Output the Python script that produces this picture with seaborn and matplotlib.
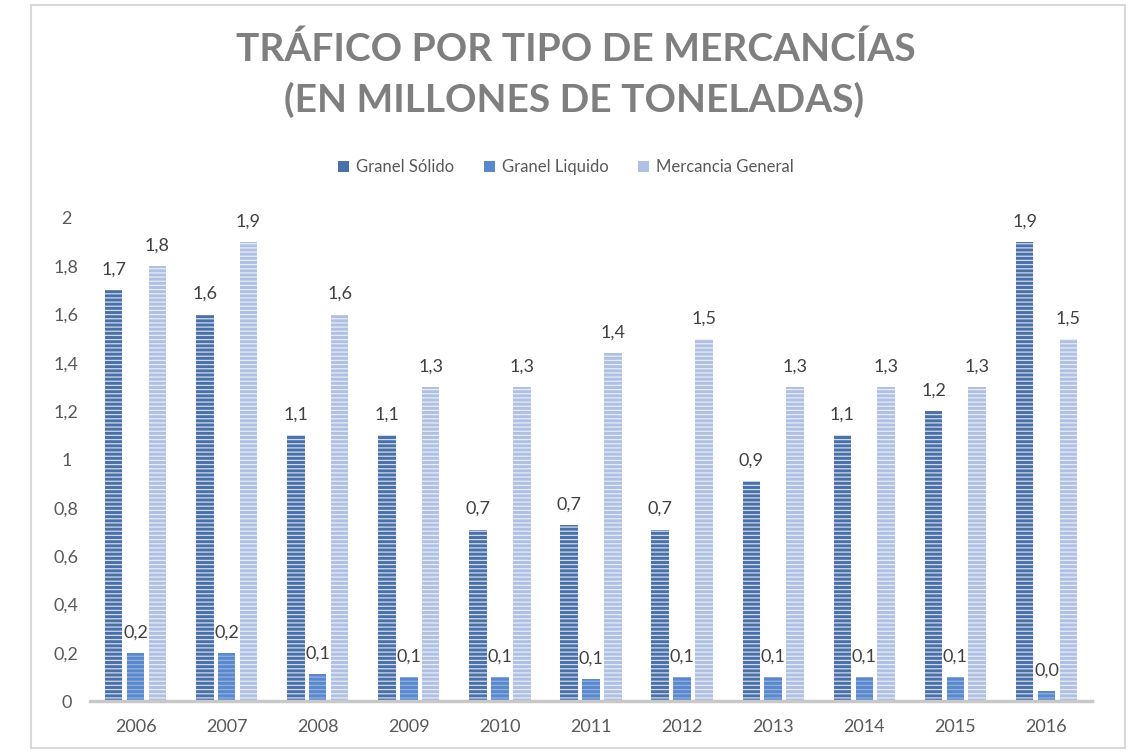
import numpy as np
import pandas as pd
import seaborn as sns
import matplotlib.pyplot as plt
from matplotlib.patches import Patch, Rectangle
from matplotlib.colors import to_rgba

# values (millions of tonnes)
years = ['2006', '2007', '2008', '2009', '2010', '2011', '2012', '2013', '2014', '2015', '2016']
granel_solido = [1.7, 1.6, 1.1, 1.1, 0.71, 0.73, 0.71, 0.91, 1.1, 1.2, 1.9]
granel_liquido = [0.2, 0.2, 0.11, 0.1, 0.1, 0.09, 0.1, 0.1, 0.1, 0.1, 0.04]
mercancia_general = [1.8, 1.9, 1.6, 1.3, 1.3, 1.44, 1.5, 1.3, 1.3, 1.3, 1.5]
series_names = ['Granel Sólido', 'Granel Liquido', 'Mercancia General']
y_ticks = [0, 0.2, 0.4, 0.6, 0.8, 1, 1.2, 1.4, 1.6, 1.8, 2]

colors = ['#4a70aa', '#5a88cd', '#afc0e2']
stripe_alpha = [0.75, 0.35, 0.7]

df = pd.DataFrame({
    'Año': years * 3,
    'Tipo': np.repeat(series_names, len(years)),
    'Valor': granel_solido + granel_liquido + mercancia_general,
})

sns.set_style('white')
plt.rcParams['font.family'] = ['Lato', 'DejaVu Sans']
plt.rcParams['hatch.color'] = 'white'
plt.rcParams['hatch.linewidth'] = 0.9

fig = plt.figure(figsize=(11.38, 7.53), dpi=100)
ax = fig.add_axes([90 / 1138, 1 - 701 / 753, 1002 / 1138, (701 - 218) / 753])

sns.barplot(data=df, x='Año', y='Valor', hue='Tipo', palette=colors,
            width=0.72, gap=0.2, linewidth=0, saturation=1, ax=ax)

# horizontal white stripes like the Excel pattern fill
for i, cont in enumerate(ax.containers):
    for p in cont:
        p.set_hatch('----')
        p._hatch_color = to_rgba('white', stripe_alpha[i])
        p.set_linewidth(0)
    labels = [f"{v:.1f}".replace('.', ',') for v in cont.datavalues]
    ax.bar_label(cont, labels=labels, padding=9, fontsize=13, color='#404040')

ax.set_ylim(0, 2)
ax.set_yticks(y_ticks)
ax.set_yticklabels([f"{t:g}".replace('.', ',') for t in y_ticks])
for lab in ax.get_yticklabels():
    lab.set_horizontalalignment('center')
ax.tick_params(axis='y', length=0, pad=17, labelsize=13, labelcolor='#595959')
ax.tick_params(axis='x', length=0, pad=13, labelsize=13, labelcolor='#595959')
ax.set_xlabel('')
ax.set_ylabel('')
ax.set_xlim(-0.5, len(years) - 0.5)

for side in ['left', 'right', 'top']:
    ax.spines[side].set_visible(False)
ax.spines['bottom'].set_color('#c8c8c8')
ax.spines['bottom'].set_linewidth(2.5)

handles = [Patch(facecolor=c, edgecolor='none') for c in colors]
leg = ax.legend(handles, series_names, loc='center',
                bbox_to_anchor=(566 / 1138, 1 - 167 / 753), bbox_transform=fig.transFigure,
                ncol=3, frameon=False, fontsize=12, labelcolor='#595959',
                handlelength=0.65, handleheight=0.65, handletextpad=0.4, columnspacing=1.8)

fig.text(576 / 1138, 1 - 49 / 753, 'TRÁFICO POR TIPO DE MERCANCÍAS', ha='center', va='center',
         fontsize=28, fontweight='bold', color='#7f7f7f')
fig.text(574 / 1138, 1 - 100 / 753, '(EN MILLONES DE TONELADAS)', ha='center', va='center',
         fontsize=28, fontweight='bold', color='#7f7f7f')

fig.add_artist(Rectangle((31 / 1138, 1 - 748 / 753), (1125 - 31) / 1138, (748 - 5) / 753,
                         transform=fig.transFigure, fill=False, edgecolor='#d9d9d9', linewidth=1.5))

fig.savefig('out.png', dpi=100)
